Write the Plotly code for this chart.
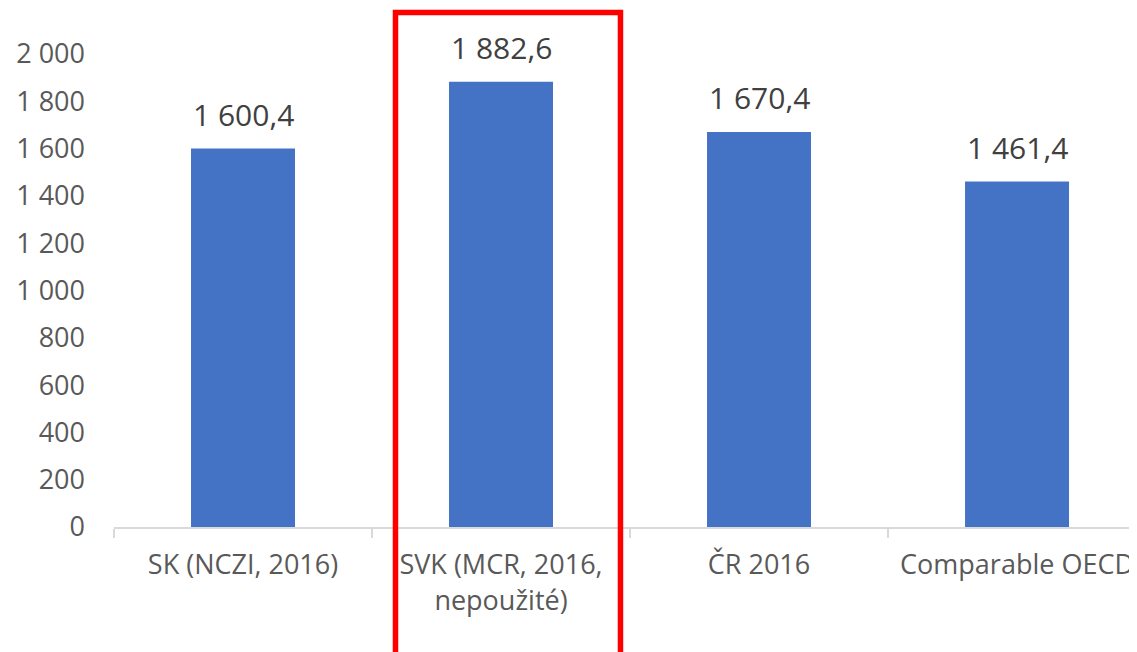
import plotly.graph_objects as go

categories = ["SK (NCZI, 2016)", "SVK (MCR, 2016,<br>nepoužité)", "ČR 2016", "Comparable OECD"]
values = [1600.4, 1882.6, 1670.4, 1461.4]
y_tickvals = [0, 200, 400, 600, 800, 1000, 1200, 1400, 1600, 1800, 2000]
y_ticktext = ["0", "200", "400", "600", "800", "1 000", "1 200", "1 400", "1 600", "1 800", "2 000"]

FONT = "Open Sans"
GRAY = "#595959"

fig = go.Figure(go.Bar(
    x=categories,
    y=values,
    width=0.403,
    marker=dict(color="#4472C4", line=dict(width=0)),
    hoverinfo="skip",
))

for c, v in zip(categories, values):
    fig.add_annotation(
        x=c, y=v, xref="x", yref="y",
        text=f"{v:,.1f}".replace(",", " ").replace(".", ","),
        showarrow=False, yanchor="middle", yshift=34,
        font=dict(family=FONT, size=30, color="#404040"),
    )

fig.add_shape(
    type="rect", xref="x", yref="paper",
    x0=0.591, x1=1.463, y0=-0.4, y1=1.088,
    line=dict(color="#FF0000", width=5.5),
    fillcolor="rgba(0,0,0,0)",
)

fig.update_layout(
    width=1129, height=644,
    margin=dict(l=106, r=0, t=46, b=124.5),
    paper_bgcolor="white", plot_bgcolor="white",
    showlegend=False,
    font=dict(family=FONT, color=GRAY),
)
fig.update_xaxes(
    type="category",
    range=[-0.5, 3.465],
    showline=True, linecolor="#D9D9D9", linewidth=2,
    showgrid=False, zeroline=False,
    tickson="boundaries", ticks="outside", ticklen=9, tickwidth=2, tickcolor="#D9D9D9",
    tickfont=dict(family=FONT, size=27, color=GRAY),
    ticklabelstandoff=13,
    automargin=False,
)
fig.update_yaxes(
    range=[0, 2000],
    tickvals=y_tickvals, ticktext=y_ticktext,
    showline=False, showgrid=False, zeroline=False, ticks="",
    tickfont=dict(family=FONT, size=27, color=GRAY),
    ticklabelstandoff=28,
    automargin=False,
)

fig.write_html("out.html")
